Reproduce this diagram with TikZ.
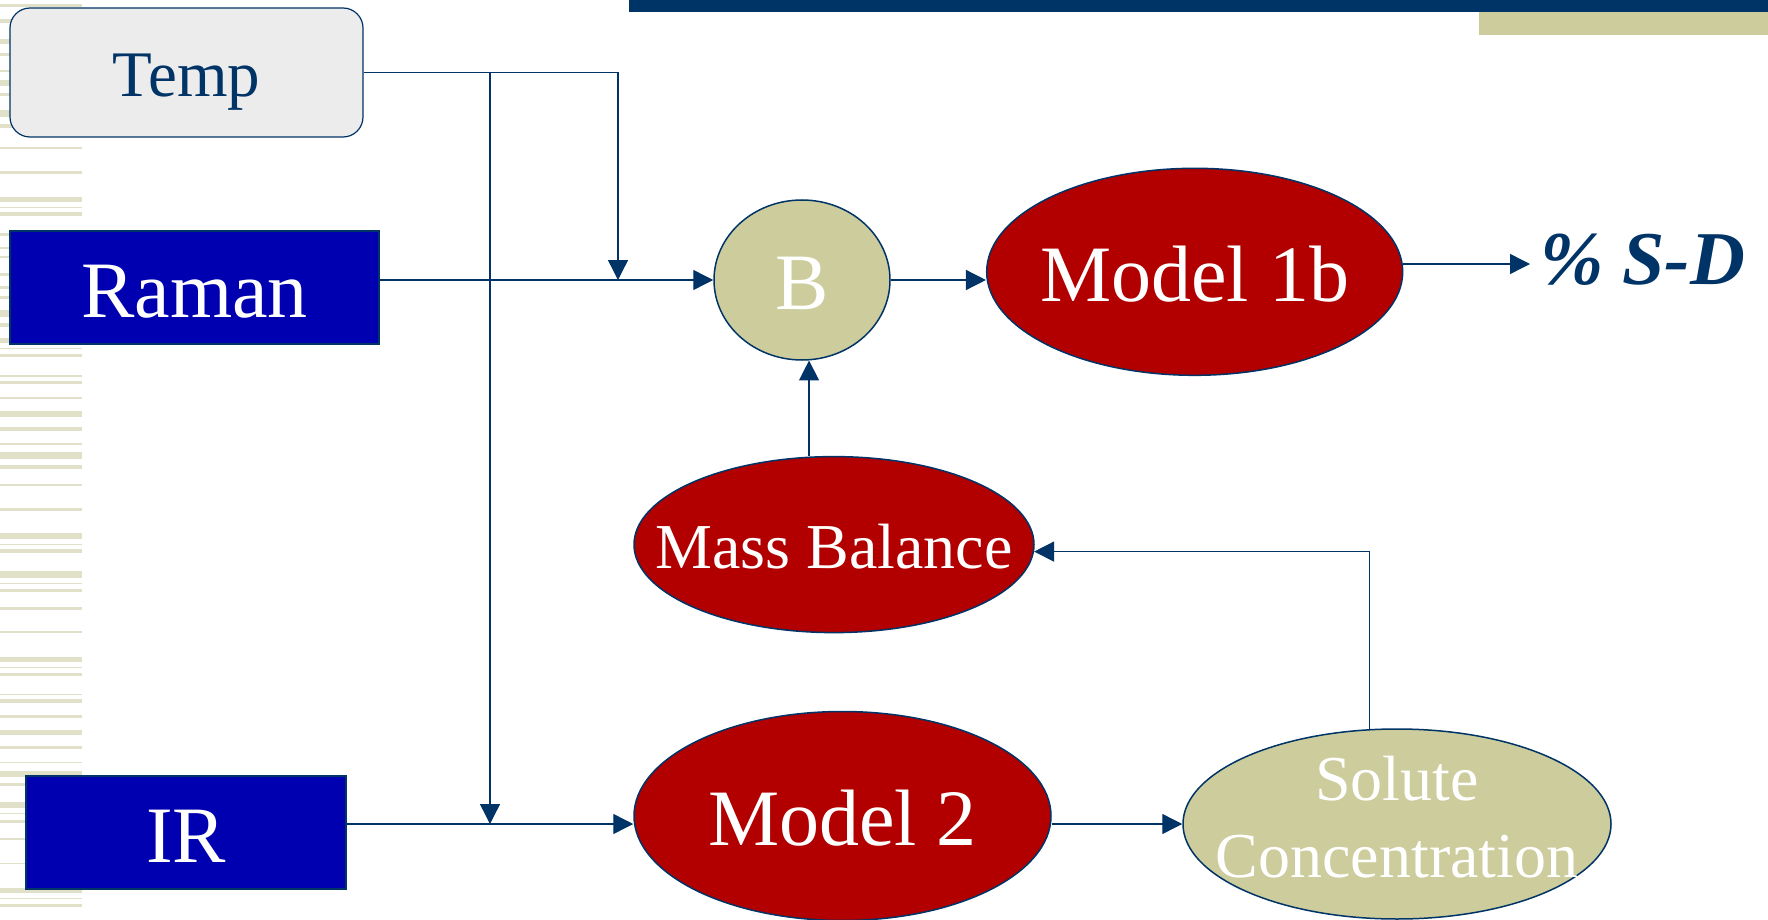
\documentclass[tikz,border=0pt]{standalone}
\usepackage{fontspec}
\setmainfont{Liberation Serif}
\usetikzlibrary{arrows.meta, calc, shapes.geometric}
\definecolor{navy}{RGB}{0,51,102}
\definecolor{khaki}{RGB}{204,204,156}
\definecolor{stripe}{RGB}{225,224,200}
\definecolor{darkred}{RGB}{178,0,0}
\definecolor{royal}{RGB}{0,0,176}
\definecolor{pale}{RGB}{236,236,236}
\tikzset{
    sensor/.style={rectangle, draw=navy, line width=0.6pt, fill=royal, text=white, minimum height=56.5pt, inner sep=0pt},
    model/.style={ellipse, draw=navy, line width=0.75pt, fill=darkred, inner sep=0pt},
    sand/.style={ellipse, draw=navy, line width=0.75pt, fill=khaki, inner sep=0pt},
    big/.style={font=\fontsize{40}{48}\selectfont, text height=29.5pt, text depth=0pt},
    wtxt/.style={big, text=white},
    conn/.style={-{Triangle[length=10pt, width=10pt]}, navy, line width=0.7pt}
}

\begin{document}
\begin{tikzpicture}[x=0.5pt, y=-0.5pt]
    \useasboundingbox (0,0) rectangle (1768,920);
    % side stripes and top bars
    \foreach \ya/\yb in {4/7, 19/23, 39/44, 53/56, 70/72, 80/86, 93/96, 110/117, 124/128, 147/149,
        171/174, 197/202, 207/208, 212/216, 233/236, 247/249, 256/258, 273/276, 286/289, 296/299,
        310/317, 323/327, 338/343, 348/349, 354/357, 375/377, 381/384, 397/399, 411/417, 427/431,
        443/445, 452/459, 465/469, 484/486, 508/511, 533/539, 544/545, 549/553, 571/578, 583/584,
        589/592, 607/610, 631/633, 657/662, 667/668, 673/676, 694/695, 699/703, 715/718, 730/735,
        746/749, 762/763, 771/777, 783/786, 802/808, 813/814, 820/823, 838/840, 863/864, 888/893,
        898/899, 904/907}
        \fill[stripe] (0,\ya) rectangle (82,\yb);
    \fill[navy] (629,0) rectangle (1768,12.5);
    \fill[khaki] (1479,12.5) rectangle (1768,35);

    % inputs
    \node[rectangle, rounded corners=10pt, draw=navy, line width=0.6pt, fill=pale, text=navy,
        minimum width=176.5pt, minimum height=64.5pt, inner sep=0pt,
        font=\fontsize{32.5}{39}\selectfont, text height=24.5pt, text depth=0pt] (temp) at (186.5,72.5) {Temp};
    \node[sensor, big, minimum width=184.5pt] (raman) at (194.5,287.5) {Raman};
    \node[sensor, big, minimum width=160pt] (ir) at (186,832.5) {IR};

    % models
    \node[sand, minimum width=88pt, minimum height=80pt, label={[wtxt]center:B}] (bnode) at (802,280) {};
    \node[model, minimum width=208pt, minimum height=103.5pt, label={[wtxt]center:Model 1b}] (model1b) at (1194.7,271.8) {};
    \node[model, minimum width=200pt, minimum height=88pt,
        label={[text=white, font=\fontsize{32}{38}\selectfont, text height=24pt, text depth=0pt]center:Mass Balance}] (massbal) at (834,544.6) {};
    \node[model, minimum width=208.5pt, minimum height=104.5pt, label={[wtxt]center:Model 2}] (model2) at (842.5,816) {};
    \node[sand, minimum width=214pt, minimum height=95pt,
        label={[text=white, align=center, font=\fontsize{32}{38.5}\selectfont, yshift=3.3pt]center:Solute\\Concentration}] (solute) at (1397,824) {};
    \node[anchor=base west, inner xsep=5pt, text=navy, font=\fontsize{38}{46}\selectfont\bfseries\itshape,
        text height=25pt, text depth=4pt] (sd) at (1530,285) {\% S-D};

    % connectors
    \coordinate (rjoin) at (618,280);
    \coordinate (ijoin) at (490,824);
    \draw[conn] (temp.east) -| (rjoin);
    \draw[conn] (temp.east -| ijoin) -- (ijoin);
    \draw[conn] (raman.east |- bnode.west) -- (bnode.west);
    \draw[conn] (bnode.east) -- (bnode.east -| model1b.west);
    \draw[conn] (model1b.east |- sd.west) -- (sd.west);
    \draw[conn] (massbal.north -| bnode.-85) -- (bnode.-85);
    \draw[conn] (solute.106) |- (massbal.-2);
    \draw[conn] (ir.east |- ijoin) -- (ijoin -| model2.west);
    \draw[conn] (model2.east |- ijoin) -- (ijoin -| solute.west);
\end{tikzpicture}
\end{document}
